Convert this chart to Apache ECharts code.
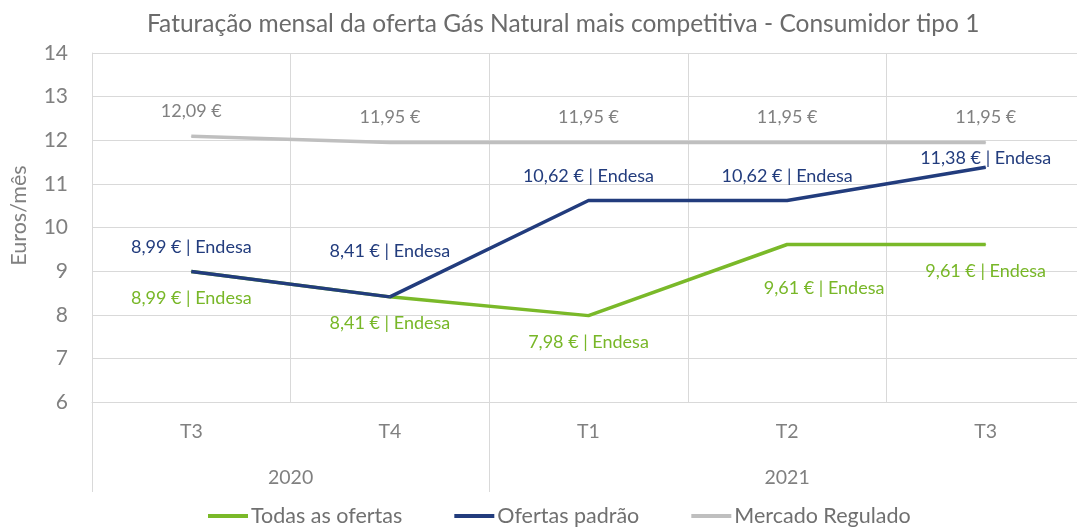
<!DOCTYPE html>
<html>
<head>
<meta charset="utf-8">
<title>Faturação mensal</title>
<script src="https://cdn.jsdelivr.net/npm/echarts@6/dist/echarts.min.js"></script>
<style>
  html, body { margin: 0; padding: 0; background: #fff; }
  #chart { width: 1077px; height: 529px; }
</style>
</head>
<body>
<div id="chart"></div>
<script>
// dados
var trimestres = ['T3', 'T4', 'T1', 'T2', 'T3'];
var anos = ['', '', '2020', '', '', '', '', '2021', '', '', ''];
var todasOfertas = [8.99, 8.41, 7.98, 9.61, 9.61];
var ofertasPadrao = [8.99, 8.41, 10.62, 10.62, 11.38];
var mercadoRegulado = [12.09, 11.95, 11.95, 11.95, 11.95];
var comercializador = 'Endesa';

var fonte = 'Lato';
var cinzaTexto = '#808080';
var cinzaGrelha = '#d9d9d9';

function fmt(v) {
    return v.toFixed(2).replace('.', ',') + ' €';
}

// deslocamentos das etiquetas (para não se sobreporem)
var offTodas = [[0, 0], [0, 0], [0, 0], [37, 17], [0, 0]];
var offPadrao = [[0, 0], [0, -21], [0, 0], [0, 0], [0, 15]];

function mkData(vals, offs) {
    return vals.map(function (v, i) {
        var o = offs ? offs[i] : [0, 0];
        return { value: v, label: { offset: o } };
    });
}

var chart = echarts.init(document.getElementById('chart'));
var option = {
    animation: false,
    title: {
        text: 'Faturação mensal da oferta Gás Natural mais competitiva - Consumidor tipo 1',
        left: 142,
        top: 7,
        textStyle: { fontFamily: fonte, fontSize: 24.5, fontWeight: 'normal', color: '#6b6b6b' }
    },
    legend: {
        top: 500,
        left: 203,
        icon: 'rect',
        itemWidth: 40,
        itemHeight: 4,
        itemGap: 52,
        textStyle: { fontFamily: fonte, fontSize: 21.5, color: '#707070', padding: [0, 0, 0, -2] },
        data: ['Todas as ofertas', 'Ofertas padrão', 'Mercado Regulado']
    },
    grid: { left: 92, width: 993, top: 53, bottom: 127, outerBoundsMode: 'none' },
    xAxis: [
        {
            type: 'category',
            data: trimestres,
            boundaryGap: true,
            axisLine: { show: true, lineStyle: { color: cinzaGrelha, width: 1 } },
            axisTick: { show: false },
            splitLine: { show: true, lineStyle: { color: cinzaGrelha, width: 1 } },
            axisLabel: { margin: 20, fontFamily: fonte, fontSize: 19.5, color: cinzaTexto }
        },
        {
            type: 'category',
            data: anos,
            boundaryGap: false,
            position: 'bottom',
            axisLine: { show: false },
            axisTick: {
                show: true,
                length: 90,
                interval: function (i) { return i === 0 || i === 4 || i === 10; },
                lineStyle: { color: cinzaGrelha, width: 1 }
            },
            splitLine: { show: false },
            axisLabel: {
                margin: 66,
                interval: function (i) { return anos[i] !== ''; },
                fontFamily: fonte, fontSize: 19.5, color: cinzaTexto
            }
        }
    ],
    yAxis: {
        type: 'value',
        min: 6,
        max: 14,
        interval: 1,
        name: 'Euros/mês',
        nameLocation: 'middle',
        nameGap: 62,
        nameTextStyle: { fontFamily: fonte, fontSize: 21.5, color: cinzaTexto, padding: [0, 0, 0, 24] },
        axisLine: { show: true, lineStyle: { color: cinzaGrelha, width: 1 } },
        axisTick: { show: false },
        splitLine: { show: true, lineStyle: { color: cinzaGrelha, width: 1 } },
        axisLabel: { margin: 24, fontFamily: fonte, fontSize: 21, color: cinzaTexto }
    },
    series: [
        {
            name: 'Todas as ofertas',
            type: 'line',
            data: mkData(todasOfertas, offTodas),
            symbol: 'circle',
            symbolSize: 1,
            color: '#7ab929',
            lineStyle: { width: 3.5, color: '#7ab929' },
            label: {
                show: true, position: 'bottom', distance: 17,
                fontFamily: fonte, fontSize: 18, color: '#78b728',
                formatter: function (p) { return fmt(p.value) + ' | ' + comercializador; }
            }
        },
        {
            name: 'Ofertas padrão',
            type: 'line',
            data: mkData(ofertasPadrao, offPadrao),
            symbol: 'circle',
            symbolSize: 1,
            color: '#223c7d',
            lineStyle: { width: 3.5, color: '#223c7d' },
            label: {
                show: true, position: 'top', distance: 15,
                fontFamily: fonte, fontSize: 18, color: '#223c7d',
                formatter: function (p) { return fmt(p.value) + ' | ' + comercializador; }
            }
        },
        {
            name: 'Mercado Regulado',
            type: 'line',
            data: mkData(mercadoRegulado),
            symbol: 'circle',
            symbolSize: 1,
            color: '#bfbfbf',
            lineStyle: { width: 3.5, color: '#bfbfbf' },
            label: {
                show: true, position: 'top', distance: 16,
                fontFamily: fonte, fontSize: 18, color: cinzaTexto,
                formatter: function (p) { return fmt(p.value); }
            }
        }
    ]
};
chart.setOption(option);
</script>
</body>
</html>
